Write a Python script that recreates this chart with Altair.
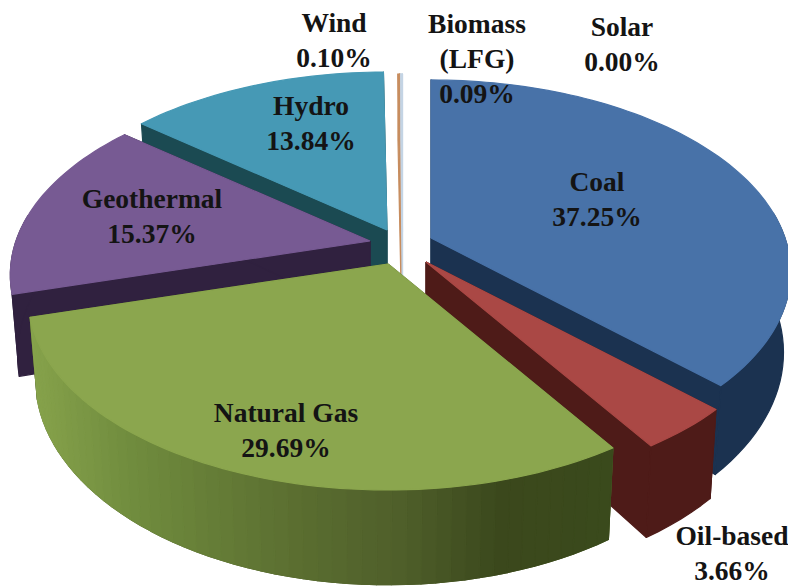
import math
import altair as alt
import pandas as pd

# Chart values, in clockwise order from twelve o'clock
categories = ["Coal", "Oil-based", "Natural Gas", "Geothermal", "Hydro", "Wind", "Biomass (LFG)", "Solar"]
shares = [37.25, 3.66, 29.69, 15.37, 13.84, 0.10, 0.09, 0.00]

label_lines = {
    "Wind": ["Wind", "0.10%"],
    "Biomass (LFG)": ["Biomass", "(LFG)", "0.09%"],
    "Solar": ["Solar", "0.00%"],
    "Hydro": ["Hydro", "13.84%"],
    "Geothermal": ["Geothermal", "15.37%"],
    "Coal": ["Coal", "37.25%"],
    "Natural Gas": ["Natural Gas", "29.69%"],
    "Oil-based": ["Oil-based", "3.66%"],
}

# Layout and styling (separate from the values)
label_anchor = {
    "Wind": (334, 24), "Biomass (LFG)": (477, 25), "Solar": (622, 28), "Hydro": (311, 107),
    "Geothermal": (152, 200), "Coal": (597, 183), "Natural Gas": (286, 414), "Oil-based": (732, 537),
}
LINE_STEP = 35
apex = {
    "Coal": (431, 238), "Oil-based": (426, 262), "Natural Gas": (388, 264), "Geothermal": (370, 241),
    "Hydro": (387, 230), "Wind": (401.5, 232), "Biomass (LFG)": (402.5, 232), "Solar": (402.5, 232),
}
top_color = {
    "Coal": "#4872a8", "Oil-based": "#aa4845", "Natural Gas": "#8ba64e", "Geothermal": "#775a93",
    "Hydro": "#4699b5", "Wind": "#c78d5f", "Biomass (LFG)": "#c4d4e4", "Solar": "#c4d4e4",
}
side_color = {
    "Coal": "#1b3250", "Oil-based": "#4e1b18", "Natural Gas": "#4f5f2a", "Geothermal": "#30213f",
    "Hydro": "#1b4a52", "Wind": "#c78d5f", "Biomass (LFG)": "#c4d4e4", "Solar": "#c4d4e4",
}
green_stops = [(30, (0x86, 0xa2, 0x4b)), (130, (0x70, 0x8c, 0x3e)), (300, (0x5a, 0x6d, 0x30)),
               (400, (0x4f, 0x5f, 0x2a)), (500, (0x3b, 0x48, 0x1c)), (620, (0x3a, 0x4a, 0x1c))]
RX, RY, K, DEPTH, SHRINK = 354, 186, 0.177, 78, 0.98
draw_order = ["Wind", "Biomass (LFG)", "Hydro", "Geothermal", "Coal", "Oil-based", "Natural Gas"]


def green_at(x):
    for (a, ca), (b, cb) in zip(green_stops, green_stops[1:]):
        if x <= b:
            t = max(0, (x - a) / (b - a))
            return "#%02x%02x%02x" % tuple(round(u + (v - u) * t) for u, v in zip(ca, cb))
    return "#3a4a1c"


def upper(name, deg, r=1.0):
    th = math.radians(deg)
    X, Y = r * math.sin(th), r * math.cos(th)
    s = 1 / (1 + K * Y)
    ax, ay = apex[name]
    return ax + RX * X * s, ay - RY * Y * s, s


def lower(name, deg, r=1.0):
    x, y, s = upper(name, deg, r)
    ax = apex[name][0]
    return ax + (x - ax) * SHRINK, y + DEPTH * s


rows = []
poly_id = 0


def add_poly(points, color):
    global poly_id
    poly_id += 1
    for p in list(points) + [points[0]]:
        rows.append({"x": p[0], "y": p[1], "poly": poly_id, "i": len(rows), "c": color})


start = {}
acc = 0.0
for name, share in zip(categories, shares):
    start[name] = (acc * 3.6, (acc + share) * 3.6)
    acc += share

for name in draw_order:
    a0, a1 = start[name]
    ap_top = upper(name, 0, 0)[:2]
    ap_low = lower(name, 0, 0)
    for a in (a0, a1):
        add_poly([ap_top, upper(name, a)[:2], lower(name, a), ap_low], side_color[name])
    w0, w1 = max(a0, 82), min(a1, 278)
    if w1 > w0:
        n = max(2, int((w1 - w0) / 2))
        angles = [w0 + (w1 - w0) * j / n for j in range(n + 1)]
        # one solid band under the wall, so no background shows between shades
        add_poly([upper(name, a)[:2] for a in angles] + [lower(name, a) for a in reversed(angles)], side_color[name])
        if name == "Natural Gas":
            for u, v in zip(angles, angles[1:]):
                pu, pv = upper(name, u), upper(name, v)
                add_poly([pu[:2], pv[:2], lower(name, v), lower(name, u)], green_at((pu[0] + pv[0]) / 2))
    n = max(2, int((a1 - a0) / 1.5))
    rim = [upper(name, a0 + (a1 - a0) * j / n)[:2] for j in range(n + 1)]
    add_poly([ap_top] + rim, top_color[name])

text_rows = []
for name, lines in label_lines.items():
    x0, y0 = label_anchor[name]
    for j, line in enumerate(lines):
        text_rows.append({"x": x0, "y": y0 + j * LINE_STEP, "t": line})

x_scale = alt.Scale(domain=[8, 788], range=[0, 780], nice=False, zero=False)
y_scale = alt.Scale(domain=[8, 588], range=[0, 580], nice=False, zero=False)

pie = alt.Chart(pd.DataFrame(rows)).mark_line(strokeWidth=1.2, strokeJoin="round", interpolate="linear").encode(
    x=alt.X("x:Q", scale=x_scale, axis=None),
    y=alt.Y("y:Q", scale=y_scale, axis=None),
    detail="poly:N",
    order=alt.Order("i:Q"),
    fill=alt.Fill("c:N", scale=None),
    stroke=alt.Stroke("c:N", scale=None),
)

labels = alt.Chart(pd.DataFrame(text_rows)).mark_text(
    font="Liberation Serif", fontSize=27.5, fontWeight="bold", color="#141414", align="center", baseline="middle"
).encode(
    x=alt.X("x:Q", scale=x_scale, axis=None),
    y=alt.Y("y:Q", scale=y_scale, axis=None),
    text="t:N",
)

chart = (pie + labels).properties(
    width=780, height=580, padding=0, autosize=alt.AutoSizeParams(type="none"), background="white"
).configure_view(stroke=None)

chart.save("out.html", embed_options={"renderer": "svg", "actions": False})
